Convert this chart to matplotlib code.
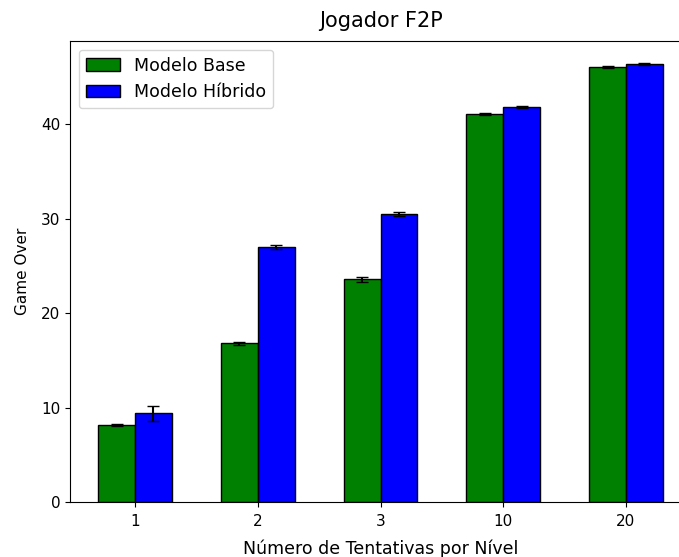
import matplotlib
matplotlib.use("Agg")
import matplotlib.pyplot as plt
import numpy as np

categories = ["1", "2", "3", "10", "20"]
base_vals = [8.2, 16.8, 23.6, 41.1, 46.1]
base_err = [0.1, 0.15, 0.25, 0.15, 0.1]
hib_vals = [9.4, 27.0, 30.5, 41.8, 46.4]
hib_err = [0.8, 0.25, 0.2, 0.1, 0.1]

W, H = 679, 557
fig = plt.figure(figsize=(W / 100, H / 100), dpi=100)
ax = fig.add_axes([70 / W, (H - 502) / H, (691 - 70) / W, (502 - 41) / H])

x = np.arange(len(categories))
w = 0.3
ax.bar(x - w / 2, base_vals, w, yerr=base_err, capsize=4, color="green",
       edgecolor="black", label="Modelo Base")
ax.bar(x + w / 2, hib_vals, w, yerr=hib_err, capsize=4, color="blue",
       edgecolor="black", label="Modelo Híbrido")
ax.set_xticks(x)
ax.set_xticklabels(categories)
ax.tick_params(labelsize=11)
ax.tick_params(axis="x", pad=5.5)
ax.spines["right"].set_visible(False)
ax.set_xlabel("Número de Tentativas por Nível", fontsize=12.5, labelpad=7)
ax.set_ylabel("Game Over", fontsize=11, labelpad=8)
ax.set_title("Jogador F2P", fontsize=15, pad=10)
ax.legend(loc="upper left", fontsize=12.5)

fig.savefig("out.png", dpi=100)
